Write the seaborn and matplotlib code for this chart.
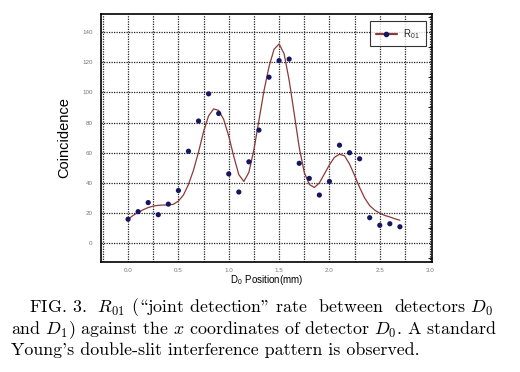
import numpy as np
import pandas as pd
import matplotlib
matplotlib.use("Agg")
import matplotlib.pyplot as plt
import seaborn as sns
from matplotlib.lines import Line2D
from matplotlib.ticker import MultipleLocator

# measured coincidence counts
position = [0.0, 0.1, 0.2, 0.3, 0.4, 0.5, 0.6, 0.7, 0.8, 0.9,
            1.0, 1.1, 1.2, 1.3, 1.4, 1.5, 1.6, 1.7, 1.8, 1.9,
            2.0, 2.1, 2.2, 2.3, 2.4, 2.5, 2.6, 2.7]
counts = [16, 21, 27, 19, 26, 35, 61, 81, 99, 86,
          46, 34, 54, 75, 110, 121, 122, 53, 43, 32,
          41, 65, 60, 56, 17, 12, 13, 11]

# fitted curve
fit_x = [0.00, 0.05, 0.10, 0.15, 0.20, 0.25, 0.30, 0.35, 0.40, 0.45,
         0.50, 0.55, 0.60, 0.65, 0.70, 0.75, 0.80, 0.85, 0.90, 0.95,
         1.00, 1.05, 1.10, 1.15, 1.20, 1.25, 1.30, 1.35, 1.40, 1.45,
         1.50, 1.55, 1.60, 1.65, 1.70, 1.75, 1.80, 1.85, 1.90, 1.95,
         2.00, 2.05, 2.10, 2.15, 2.20, 2.25, 2.30, 2.35, 2.40, 2.45,
         2.50, 2.55, 2.60, 2.65, 2.70]
fit_y = [16.0, 18.5, 20.5, 22.3, 23.7, 24.7, 25.2, 25.4, 25.4, 25.9,
         28.0, 32.0, 39.0, 48.5, 60.5, 74.0, 84.5, 89.0, 88.0, 82.0,
         71.0, 57.5, 45.5, 41.0, 47.0, 62.0, 81.5, 101.0, 117.0, 128.5,
         132.0, 125.5, 108.0, 86.0, 63.5, 47.0, 39.0, 37.0, 40.0, 46.0,
         52.0, 57.0, 59.0, 58.0, 52.5, 45.0, 37.0, 30.0, 25.0, 22.0,
         20.0, 18.5, 17.5, 16.3, 15.3]

x_ticks = [0.0, 0.5, 1.0, 1.5, 2.0, 2.5, 3.0]
y_ticks = [0, 20, 40, 60, 80, 100, 120, 140]

dots = pd.DataFrame({"x": position, "y": counts})
curve = pd.DataFrame({"x": fit_x, "y": fit_y})

sns.set_style("white")
plt.rcParams["font.family"] = ["Liberation Sans", "DejaVu Sans"]
plt.rcParams["mathtext.fontset"] = "cm"
plt.rcParams["axes.unicode_minus"] = False

fig = plt.figure(figsize=(5.2, 3.72), dpi=100)
ax = fig.add_axes([0.194, 0.297, 0.637, 0.666])

dot_color = "#161660"
line_color = "#8a3a3a"

sns.lineplot(data=curve, x="x", y="y", ax=ax, color=line_color, lw=0.9, zorder=3)
sns.scatterplot(data=dots, x="x", y="y", ax=ax, color=dot_color, s=14,
                edgecolor="none", zorder=4)

ax.set_xlim(-0.27, 3.02)
ax.set_ylim(-12, 152)
ax.set_xticks(x_ticks)
ax.set_xticklabels([f"{t:.1f}" for t in x_ticks])
ax.set_yticks(y_ticks)
ax.xaxis.set_minor_locator(MultipleLocator(0.25))
ax.yaxis.set_minor_locator(MultipleLocator(10))

ax.grid(which="major", axis="y", color="#222222", linestyle=(0, (1, 1)), lw=0.9)
ax.grid(which="both", axis="x", color="#222222", linestyle=(0, (1, 1)), lw=0.9)
ax.tick_params(axis="both", which="both", direction="in", length=3,
               labelsize=4.5, labelcolor="#777777", color="black",
               top=False, right=True)
ax.tick_params(axis="x", which="both", length=0, pad=5)
ax.tick_params(axis="y", which="major", length=0, pad=6)
for s in ax.spines.values():
    s.set_linewidth(1.2)
    s.set_color("black")

ax.set_xlabel(r"D$_\mathregular{0}$ Position(mm)", fontsize=7, labelpad=0, color="black")
ax.set_ylabel("Coincidence", fontsize=10.5, labelpad=8, color="black")

handle = Line2D([], [], color=line_color, lw=1.6, marker="o",
                markersize=3, markerfacecolor=dot_color, markeredgecolor=dot_color)
leg = ax.legend([handle], [r"R$_\mathregular{01}$"], loc="upper right",
                fontsize=7, frameon=True, fancybox=False, handlelength=2.2,
                handletextpad=0.6, borderpad=0.6, bbox_to_anchor=(0.995, 0.99))
leg.get_frame().set_edgecolor("black")
leg.get_frame().set_linewidth(0.8)

# caption below the plot (cmr10 uses TeX encoding: \ is an opening double quote)
cap = dict(fontsize=12.9, family=["cmr10", "DejaVu Serif"], va="baseline",
           ha="left", color="black")
fig.text(0.056, 0.161, "FIG. 3.  $R_{01}$ (\\joint detection\" rate  between  detectors $D_0$",
         **cap)
fig.text(0.021, 0.102, "and $D_1$) against the $x$ coordinates of detector $D_0$. A standard",
         **cap)
fig.text(0.021, 0.045, "Young's double-slit interference pattern is observed.", **cap)

fig.savefig("out.png", dpi=100, facecolor="white")
